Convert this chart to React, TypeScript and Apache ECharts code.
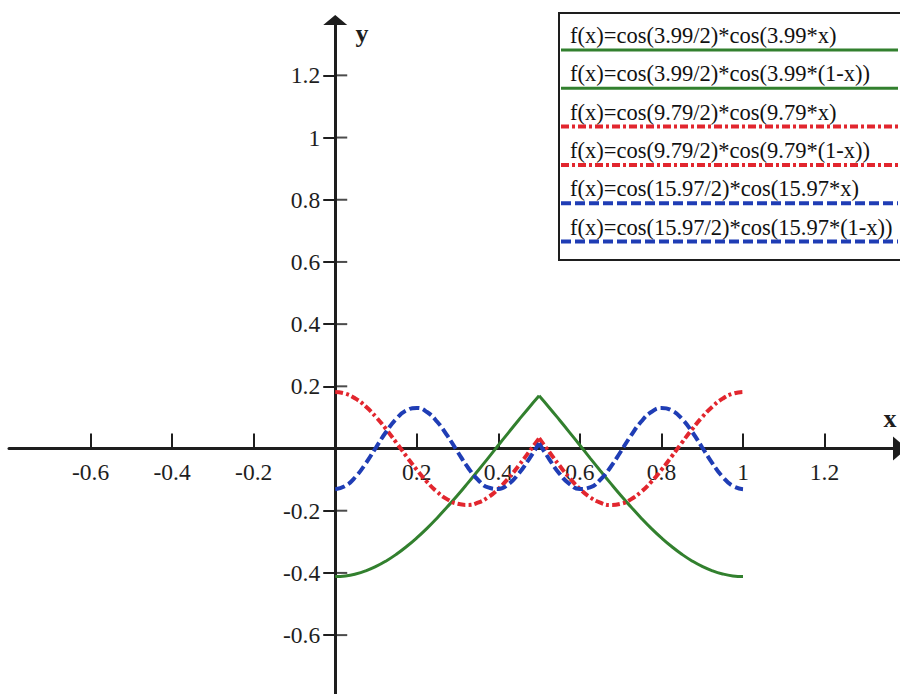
import React, { useEffect, useRef } from "react";
import * as echarts from "echarts";

// Sample abscissas for the two halves of the interval [0, 1]
const xLeft = [0, 0.025, 0.05, 0.075, 0.1, 0.125, 0.15, 0.175, 0.2, 0.225, 0.25, 0.275, 0.3, 0.325, 0.35, 0.375, 0.4, 0.425, 0.45, 0.475, 0.5];
const xRight = [0.5, 0.525, 0.55, 0.575, 0.6, 0.625, 0.65, 0.675, 0.7, 0.725, 0.75, 0.775, 0.8, 0.825, 0.85, 0.875, 0.9, 0.925, 0.95, 0.975, 1];

// k = 3.99
const greenLeft = [-0.4116, -0.4096, -0.4034, -0.3933, -0.3793, -0.3615, -0.3401, -0.3152, -0.2873, -0.2566, -0.2232, -0.1874, -0.1503, -0.1113, -0.0713, -0.0307, 0.0104, 0.0513, 0.0917, 0.1313, 0.1694];
const greenRight = [0.1694, 0.1313, 0.0917, 0.0513, 0.0104, -0.0307, -0.0713, -0.1113, -0.1503, -0.1874, -0.2232, -0.2566, -0.2873, -0.3152, -0.3401, -0.3615, -0.3793, -0.3933, -0.4034, -0.4096, -0.4116];
// k = 9.79
const redLeft = [0.1816, 0.1762, 0.1603, 0.1348, 0.1013, 0.0618, 0.0185, -0.0258, -0.0686, -0.1073, -0.1396, -0.1636, -0.1778, -0.1815, -0.1743, -0.1567, -0.1298, -0.0952, -0.0549, -0.0113, 0.033];
const redRight = [0.033, -0.0113, -0.0549, -0.0952, -0.1298, -0.1567, -0.1743, -0.1815, -0.1778, -0.1636, -0.1396, -0.1073, -0.0686, -0.0258, 0.0185, 0.0618, 0.1013, 0.1348, 0.1603, 0.1762, 0.1816];
// k = 15.97
const blueLeft = [-0.1306, -0.1203, -0.0911, -0.0476, 0.0034, 0.0539, 0.0959, 0.1228, 0.1304, 0.1175, 0.0861, 0.0412, -0.0103, -0.0601, -0.1004, -0.125, -0.1299, -0.1144, -0.0808, -0.0346, 0.0171];
const blueRight = [0.0171, -0.0346, -0.0808, -0.1144, -0.1299, -0.125, -0.1004, -0.0601, -0.0103, 0.0412, 0.0861, 0.1175, 0.1304, 0.1228, 0.0959, 0.0539, 0.0034, -0.0476, -0.0911, -0.1203, -0.1306];

const seriesNames = [
  "f(x)=cos(3.99/2)*cos(3.99*x)",
  "f(x)=cos(3.99/2)*cos(3.99*(1-x))",
  "f(x)=cos(9.79/2)*cos(9.79*x)",
  "f(x)=cos(9.79/2)*cos(9.79*(1-x))",
  "f(x)=cos(15.97/2)*cos(15.97*x)",
  "f(x)=cos(15.97/2)*cos(15.97*(1-x))",
];

const xTicks = [-0.6, -0.4, -0.2, 0.2, 0.4, 0.6, 0.8, 1, 1.2];
const yTicks = [-0.6, -0.4, -0.2, 0.2, 0.4, 0.6, 0.8, 1, 1.2];

const FONT = '"Liberation Serif", "Times New Roman", serif';
const INK = "#1e1e1e";
const GREEN = "#32802e";
const RED = "#e2262e";
const BLUE = "#1f3db5";

const styles = [
  { color: GREEN, width: 3, type: "solid" as any },
  { color: GREEN, width: 3, type: "solid" as any },
  { color: RED, width: 4, type: [8, 3, 3, 3] as any },
  { color: RED, width: 4, type: [8, 3, 3, 3] as any },
  { color: BLUE, width: 4, type: [10, 4] as any },
  { color: BLUE, width: 4, type: [10, 4] as any },
];

const halves = [
  [xLeft, greenLeft],
  [xRight, greenRight],
  [xLeft, redLeft],
  [xRight, redRight],
  [xLeft, blueLeft],
  [xRight, blueRight],
];

// Plot frame: x from -0.8 to 1.385, y from -0.8 to 1.378
const X_MIN = -0.8;
const X_MAX = 1.385;
const Y_MIN = -0.8;
const Y_MAX = 1.378;
const GRID = { left: 9, right: 0, top: 20, bottom: -3.3 };
const W = 900;
const H = 694;

export default function App() {
  const ref = useRef<HTMLDivElement>(null);

  useEffect(() => {
    if (!ref.current) return;
    const chart = echarts.init(ref.current, null, { renderer: "svg" });

    // Pull the axes in from the frame edges so they cross at the origin
    const gw = W - GRID.left - GRID.right;
    const gh = H - GRID.top - GRID.bottom;
    const yAxisOffset = -((0 - X_MIN) / (X_MAX - X_MIN)) * gw;
    const xAxisOffset = -((0 - Y_MIN) / (Y_MAX - Y_MIN)) * gh;

    const series: any[] = halves.map(([xs, ys], i) => ({
      name: seriesNames[i],
      type: "line",
      showSymbol: false,
      smooth: true,
      data: (xs as number[]).map((x, j) => [x, (ys as number[])[j]]),
      lineStyle: { color: styles[i].color, width: styles[i].width, type: styles[i].type, cap: "butt" },
      itemStyle: { color: styles[i].color },
      z: 3,
    }));

    // Right-hand half of the y-axis tick marks, so each tick crosses the axis
    series.push({
      type: "scatter",
      silent: true,
      symbol: "rect",
      symbolSize: [12, 2],
      symbolOffset: [6, 0],
      itemStyle: { color: INK },
      data: yTicks.map((v) => [0, v]),
      z: 2,
    });

    // Legend box: label text with its line sample beneath
    const legendChildren: any[] = [
      {
        type: "rect",
        shape: { x: 559, y: 13, width: 400, height: 247 },
        style: { fill: "#ffffff", stroke: INK, lineWidth: 2 },
      },
    ];
    seriesNames.forEach((name, i) => {
      legendChildren.push({
        type: "text",
        x: 570,
        y: 35.5 + 38.3 * i,
        style: {
          text: name,
          font: `22.5px ${FONT}`,
          fill: "#111",
          textAlign: "left",
          textVerticalAlign: "middle",
        },
      });
      legendChildren.push({
        type: "line",
        shape: { x1: 561, y1: 50 + 38.3 * i, x2: 898, y2: 50 + 38.3 * i },
        style: {
          stroke: styles[i].color,
          lineWidth: styles[i].width,
          lineDash: Array.isArray(styles[i].type) ? styles[i].type : null,
        },
      });
    });

    const axisText = { fontFamily: FONT, fontSize: 23.5, color: INK };

    chart.setOption({
      animation: false,
      backgroundColor: "#ffffff",
      grid: { ...GRID, outerBoundsMode: "none", containLabel: false },
      xAxis: {
        type: "value",
        min: X_MIN,
        max: X_MAX,
        position: "bottom",
        offset: xAxisOffset,
        splitLine: { show: false },
        axisLine: {
          onZero: false,
          symbol: ["none", "triangle"],
          symbolSize: [24, 14],
          lineStyle: { color: INK, width: 3 },
        },
        axisTick: { inside: true, length: 15, customValues: xTicks, lineStyle: { color: INK, width: 2 } },
        axisLabel: { customValues: xTicks, margin: 11, ...axisText },
      },
      yAxis: {
        type: "value",
        min: Y_MIN,
        max: Y_MAX,
        position: "left",
        offset: yAxisOffset,
        splitLine: { show: false },
        axisLine: {
          onZero: false,
          symbol: ["none", "triangle"],
          symbolSize: [24, 10],
          lineStyle: { color: INK, width: 3 },
        },
        axisTick: { inside: false, length: 12, customValues: yTicks, lineStyle: { color: INK, width: 2 } },
        axisLabel: { customValues: yTicks, margin: 15, ...axisText },
      },
      series,
      graphic: [
        {
          type: "text",
          x: 362,
          y: 33,
          style: { text: "y", font: `bold 26px ${FONT}`, fill: INK, textAlign: "center", textVerticalAlign: "middle" },
        },
        {
          type: "text",
          x: 890,
          y: 418,
          style: { text: "x", font: `bold 26px ${FONT}`, fill: INK, textAlign: "center", textVerticalAlign: "middle" },
        },
        { type: "group", children: legendChildren },
      ],
    });

    return () => chart.dispose();
  }, []);

  return (
    <div
      ref={ref}
      style={{ position: "absolute", left: 0, top: 0, width: W, height: H, background: "#ffffff" }}
    />
  );
}
